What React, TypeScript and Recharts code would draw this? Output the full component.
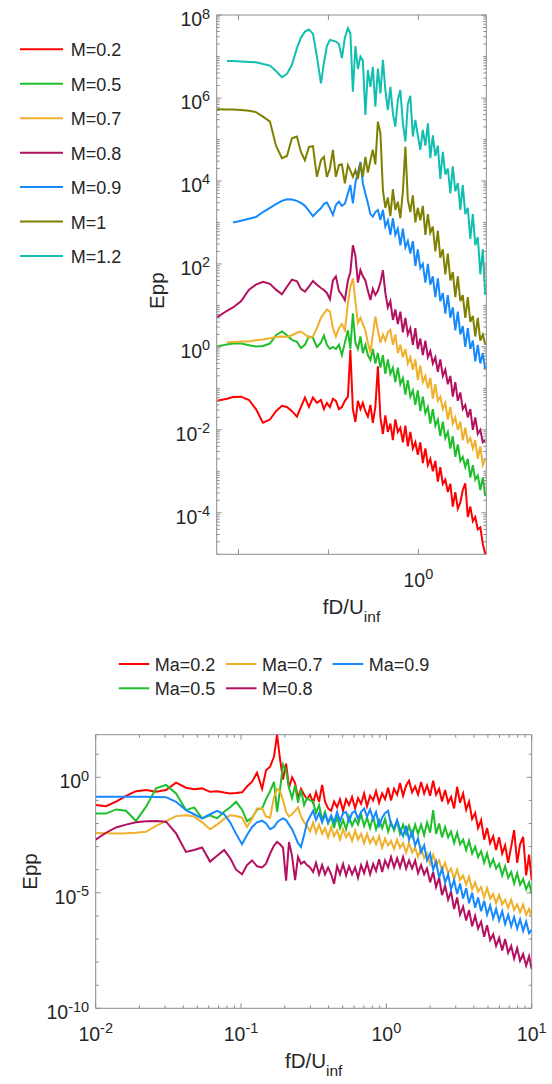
import React from "react";
import { LineChart, Line, XAxis, YAxis, ReferenceArea } from "recharts";

// ---- top panel: log10(fD/U_inf) sample points and log10(Epp) per Mach number ----
const topFreqExp = [
  -2.239, -2.128, -2.061, -1.972, -1.883, -1.806, -1.728, -1.65, -1.583, -1.517,
  -1.461, -1.406, -1.35, -1.306, -1.261, -1.217, -1.172, -1.128, -1.083, -1.05,
  -1.017, -0.983, -0.95, -0.917, -0.883, -0.85, -0.817, -0.783, -0.756, -0.728,
  -0.7, -0.672, -0.644, -0.617, -0.589, -0.561, -0.533, -0.506, -0.478, -0.45,
  -0.422, -0.394, -0.367, -0.339, -0.311, -0.283, -0.256, -0.228, -0.2, -0.172,
  -0.144, -0.117, -0.089, -0.061, -0.033, -0.006, 0.022, 0.05, 0.078, 0.106,
  0.133, 0.161, 0.189, 0.217, 0.244, 0.272, 0.3, 0.328, 0.356, 0.383,
  0.411, 0.439, 0.467, 0.494, 0.522, 0.55, 0.578, 0.606, 0.633, 0.661,
  0.689, 0.717, 0.744,
];

const topM02 = [
  -1.3, -1.25, -1.21, -1.2, -1.28, -1.5, -1.83, -1.75, -1.55, -1.42,
  -1.45, -1.55, -1.68, -1.45, -1.22, -1.45, -1.22, -1.35, -1.28, -1.5,
  -1.35, -1.45, -1.25, -1.3, -1.5, -1.45, -1.3, -1.2, -0.07, -1.5,
  -1.81, -1.3, -1.5, -1.35, -1.55, -1.68, -1.4, -1.83, -1.45, -0.47,
  -1.7, -2.1, -1.65, -2.05, -1.85, -2.25, -1.75, -2.05, -1.95, -2.3,
  -1.9, -2.4, -2.05, -2.45, -2.3, -2.6, -2.3, -2.8, -2.45, -2.85,
  -2.7, -3.0, -2.75, -3.25, -2.9, -3.3, -3.2, -3.5, -3.3, -3.85,
  -3.5, -3.9, -3.75, -3.45, -3.29, -4.1, -3.85, -4.2, -4.1, -4.4,
  -4.35, -4.75, -5.0,
];

const topM05 = [
  0.01, 0.06, 0.08, 0.08, 0.04, 0.01, 0.02, 0.08, 0.28, 0.37,
  0.28, 0.17, 0.12, -0.03, 0.05, 0.25, 0.22, 0.0, 0.1, 0.27,
  0.05, -0.05, 0.0, -0.05, 0.05, -0.2, 0.1, 0.4, -0.05, 0.81,
  0.1, -0.05, 0.25, -0.15, 0.05, -0.2, -0.32, -0.05, -0.4, -0.15,
  -0.5, -0.2, -0.65, -0.3, -0.65, -0.5, -0.85, -0.5, -0.9, -0.75,
  -1.15, -0.8, -1.2, -1.05, -1.4, -1.05, -1.55, -1.2, -1.6, -1.45,
  -1.85, -1.5, -1.9, -1.75, -2.15, -1.8, -2.2, -2.05, -2.45, -2.15,
  -2.65, -2.35, -2.75, -2.65, -2.9, -2.7, -3.15, -2.85, -3.2, -3.1,
  -3.45, -3.15, -3.6,
];

const topM07 = [
  null, 0.11, 0.12, 0.13, 0.13, 0.16, 0.18, 0.21, 0.24, 0.25,
  0.24, 0.28, 0.34, 0.37, 0.3, 0.22, 0.25, 0.45, 0.7, 0.8,
  0.9, 0.85, 0.45, 0.25, 0.45, 0.55, 0.4, 1.05, 1.45, 1.65,
  1.1, 0.57, 0.7, 0.55, 0.4, 0.1, -0.15, 0.3, 0.73, 0.4,
  0.1, 0.3, 0.15, 0.35, 0.41, 0.05, 0.3, -0.15, 0.05, -0.25,
  -0.05, -0.4, -0.25, -0.55, -0.3, -0.8, -0.45, -0.85, -0.7, -1.0,
  -0.75, -1.25, -0.9, -1.3, -1.2, -1.5, -1.35, -1.75, -1.45, -1.85,
  -1.7, -2.0, -1.8, -2.25, -1.95, -2.3, -2.2, -2.45, -2.25, -2.7,
  -2.4, -2.85, -2.7,
];

const topM08 = [
  0.71, 0.87, 0.95, 1.1, 1.38, 1.5, 1.57, 1.52, 1.38, 1.27,
  1.45, 1.62, 1.58, 1.4, 1.33, 1.45, 1.59, 1.5, 1.42, 1.37,
  1.3, 1.15, 1.6, 1.7, 1.35, 1.25, 1.13, 1.6, 1.8, 2.45,
  2.2, 1.55, 1.85, 1.7, 1.6, 1.35, 1.13, 1.4, 1.25, 1.35,
  1.55, 1.85, 1.3, 0.95, 1.1, 0.65, 0.9, 0.55, 0.85, 0.35,
  0.7, 0.3, 0.45, 0.05, 0.45, -0.05, 0.2, -0.2, 0.15, -0.25,
  -0.1, -0.4, -0.25, -0.6, -0.3, -0.7, -0.55, -0.9, -0.7, -1.2,
  -0.85, -1.3, -1.1, -1.5, -1.4, -1.7, -1.5, -2.0, -1.7, -2.1,
  -2.0, -2.3, -2.25,
];

const topM09 = [
  null, null, 3.0, 3.04, 3.09, 3.13, 3.25, 3.35, 3.44, 3.52,
  3.56, 3.55, 3.52, 3.47, 3.4, 3.28, 3.15, 3.25, 3.34, 3.45,
  3.48, 3.34, 3.18, 3.42, 3.5, 3.4, 3.45, 3.7, 3.9, 3.46,
  3.95, 4.2, 4.46, 3.94, 3.7, 3.46, 3.2, 3.14, 3.25, 3.3,
  3.06, 3.3, 2.9, 3.05, 2.7, 3.1, 2.7, 2.85, 2.45, 2.85,
  2.4, 2.55, 2.25, 2.55, 1.95, 2.35, 1.9, 2.0, 1.55, 2.0,
  1.5, 1.7, 1.2, 1.65, 1.1, 1.3, 0.8, 1.25, 0.7, 0.95,
  0.4, 0.85, 0.3, 0.5, 0.0, 0.45, -0.05, 0.15, -0.35, 0.05,
  -0.4, -0.15, -0.55,
];

const topM10 = [
  5.73, 5.72, 5.72, 5.71, 5.69, 5.66, 5.55, 5.43, 4.85, 4.55,
  4.6, 5.03, 5.07, 4.7, 4.5, 4.82, 4.84, 4.1, 4.5, 4.58,
  4.1, 4.3, 4.75, 4.1, 4.38, 4.4, 3.94, 4.38, 4.25, 4.1,
  4.26, 4.05, 4.42, 4.1, 4.58, 4.2, 4.5, 4.75, 4.4, 5.43,
  5.15, 3.78, 3.35, 3.6, 3.15, 3.8, 3.3, 3.5, 3.1, 3.75,
  4.82, 3.55, 3.25, 3.65, 3.0, 3.35, 3.05, 3.4, 2.7, 3.2,
  2.75, 2.9, 2.3, 2.8, 2.15, 2.35, 1.75, 2.25, 1.6, 1.8,
  1.2, 1.7, 1.1, 1.25, 0.7, 1.2, 0.6, 0.75, 0.25, 0.7,
  0.15, 0.3, 0.05,
];

const topM12 = [
  null, 6.89, 6.89, 6.88, 6.87, 6.86, 6.82, 6.78, 6.65, 6.5,
  6.58, 6.8, 7.2, 7.45, 7.6, 7.65, 7.55, 7.0, 6.35, 6.85,
  7.25, 7.4, 7.38, 7.36, 7.3, 6.96, 7.45, 7.68, 7.56, 6.15,
  7.25, 6.7, 7.0, 6.9, 5.59, 6.67, 6.27, 6.75, 5.79, 6.71,
  6.11, 6.92, 6.19, 5.71, 6.27, 5.63, 5.31, 5.95, 6.19, 5.39,
  4.95, 5.85, 6.05, 5.07, 5.47, 5.1, 4.75, 5.23, 4.85, 5.39,
  4.55, 5.1, 4.6, 4.85, 4.05, 4.7, 4.15, 4.3, 3.7, 4.35,
  3.75, 3.95, 3.3, 3.9, 3.2, 3.35, 2.6, 3.2, 2.45, 2.65,
  1.75, 2.35, 1.25,
];

// ---- bottom panel ----
const bottomFreqExp = [
  -2.0, -1.929, -1.86, -1.791, -1.723, -1.654, -1.585, -1.516, -1.447, -1.379,
  -1.323, -1.268, -1.213, -1.165, -1.116, -1.075, -1.034, -0.993, -0.959, -0.924,
  -0.89, -0.855, -0.828, -0.8, -0.773, -0.752, -0.732, -0.711, -0.69, -0.67,
  -0.649, -0.628, -0.608, -0.587, -0.566, -0.546, -0.525,
  -0.504, -0.484, -0.463, -0.442, -0.422, -0.401, -0.38, -0.36, -0.339, -0.319,
  -0.298, -0.277, -0.257, -0.236, -0.215, -0.195, -0.174, -0.153, -0.133, -0.112,
  -0.091, -0.071, -0.05, -0.029, -0.009, 0.012, 0.032, 0.053, 0.074, 0.094,
  0.115, 0.136, 0.156, 0.177, 0.198, 0.218, 0.239, 0.26, 0.28, 0.301,
  0.322, 0.342, 0.363, 0.383, 0.404, 0.425, 0.445, 0.466, 0.487, 0.507,
  0.528, 0.549, 0.569, 0.59, 0.611, 0.631, 0.652, 0.673, 0.693, 0.714,
  0.735, 0.755, 0.776, 0.797, 0.817, 0.838, 0.859, 0.879, 0.9, 0.92,
  0.941, 0.962, 0.982, 1.0,
];

const botMa02 = [
  -1.2, -1.25, -1.05, -0.8, -0.6, -0.55, -0.62, -0.55, -0.23, -0.45,
  -0.52, -0.48, -0.63, -0.6, -0.66, -0.7, -0.68, -0.65, -0.4, -0.19,
  0.2, -0.5, 0.3, 0.46, 0.9, 1.85, 0.8, -0.1, 0.59, -0.45,
  0.0, -0.25, -0.9, -0.5, -0.75, -0.95, -0.75,
  -1.1, -0.65, -1.06, -0.33, -1.05, -1.35, -1.45, -1.05, -1.3, -0.95,
  -1.45, -0.95, -1.2, -0.85, -1.35, -0.9, -1.15, -0.7, -1.25, -0.8,
  -1.0, -0.6, -1.1, -0.7, -0.95, -0.45, -1.0, -0.5, -0.75, -0.25,
  -0.8, -0.35, -0.15, -0.65, -0.4, -0.75, -0.2, -0.7, -0.35, -0.8,
  -0.15, -0.75, -0.5, -1.05, -0.55, -1.1, -0.85, -1.35, -0.41, -1.1,
  -0.7, -1.4, -1.05, -1.8, -1.55, -2.2, -1.85, -2.7, -2.2, -2.85,
  -2.55, -3.15, -2.6, -3.3, -2.95, -3.7, -3.0, -2.29, -3.7, -2.9,
  -2.58, -4.25, -3.35, -4.45,
];

const botMa05 = [
  -1.57, -1.57, -1.39, -1.45, -1.89, -1.28, -0.48, -0.33, -0.7, -1.42,
  -1.3, -1.78, -1.65, -1.78, -1.49, -1.3, -1.06, -1.4, -1.9, -1.75,
  -1.4, -1.35, -0.95, -0.6, -0.2, -1.5, -0.55, 0.55, 0.3, -0.45,
  -0.9, -0.35, -1.1, -0.55, -1.2, -0.9, -1.0,
  -1.05, -1.55, -1.2, -1.85, -1.5, -2.0, -1.7, -2.2, -1.7, -2.2,
  -1.85, -2.25, -1.7, -2.1, -1.8, -2.05, -1.6, -2.1, -1.75, -2.2,
  -1.7, -2.25, -1.85, -2.2, -1.8, -2.35, -1.95, -2.3, -1.9, -2.45,
  -2.05, -2.45, -2.1, -2.55, -2.05, -2.45, -2.05, -2.5, -1.95, -2.4,
  -1.42, -2.45, -2.0, -2.6, -2.15, -2.6, -2.35, -2.85, -2.4, -2.9,
  -2.7, -3.15, -2.75, -3.3, -3.0, -3.45, -3.2, -3.7, -3.3, -3.85,
  -3.55, -3.95, -3.75, -4.25, -3.85, -4.35, -4.1, -4.6, -4.15, -4.65,
  -4.4, -4.85, -4.55, -5.05,
];

const botMa07 = [
  -2.41, -2.42, -2.43, -2.42, -2.4, -2.36, -2.1, -1.9, -1.68, -1.64,
  -1.7, -1.95, -2.25, -2.05, -1.8, -1.64, -1.68, -1.75, -2.15, -1.8,
  -1.35, -1.35, -1.7, -1.75, -0.85, -0.5, -0.6, -1.0, -1.5, -1.7,
  -1.6, -1.45, -1.3, -1.7, -1.95, -2.1, -2.35,
  -1.95, -2.4, -2.05, -2.45, -2.2, -2.6, -2.15, -2.55, -2.3, -2.7,
  -2.25, -2.6, -2.4, -2.75, -2.3, -2.7, -2.45, -2.85, -2.45, -2.85,
  -2.6, -2.9, -2.55, -3.05, -2.65, -2.95, -2.75, -3.1, -2.7, -3.05,
  -2.85, -3.25, -2.85, -3.25, -3.05, -3.45, -3.05, -3.5, -3.3, -3.75,
  -3.35, -3.8, -3.6, -4.05, -3.7, -4.15, -3.95, -4.4, -4.0, -4.45,
  -4.25, -4.65, -4.3, -4.85, -4.55, -4.95, -4.75, -5.2, -4.8, -5.25,
  -5.05, -5.45, -5.1, -5.5, -5.3, -5.65, -5.3, -5.75, -5.5, -5.85,
  -5.5, -5.95, -5.7, -6.05,
];

const botM08 = [
  -2.7, -2.4, -2.17, -2.05, -1.95, -1.9, -1.89, -1.92, -2.43, -3.23,
  -3.15, -3.04, -3.65, -3.4, -3.15, -3.5, -4.0, -4.2, -3.8, -3.6,
  -3.85, -3.9, -3.74, -3.3, -2.95, -2.8, -2.9, -3.05, -4.47, -2.8,
  -3.4, -4.45, -3.45, -3.74, -3.65, -3.8, -3.9,
  -4.1, -3.7, -4.2, -3.8, -4.2, -3.9, -4.2, -4.61, -3.85, -4.2,
  -3.75, -4.25, -3.85, -4.2, -3.9, -4.35, -3.8, -4.15, -3.7, -4.2,
  -3.75, -4.05, -3.55, -4.1, -3.6, -3.9, -3.45, -3.9, -3.5, -3.9,
  -3.45, -3.95, -3.6, -3.95, -3.6, -4.15, -3.8, -4.2, -3.95, -4.55,
  -4.1, -4.75, -4.35, -5.1, -4.7, -5.3, -4.95, -5.7, -5.2, -5.95,
  -5.6, -6.2, -5.75, -6.45, -6.0, -6.55, -6.25, -6.9, -6.4, -7.05,
  -6.8, -7.3, -6.95, -7.5, -7.0, -7.6, -7.3, -7.85, -7.4, -7.95,
  -7.65, -8.15, -7.75, -8.3,
];

const botMa09 = [
  -0.84, -0.84, -0.84, -0.84, -0.84, -0.84, -0.85, -0.86, -1.06, -1.42,
  -1.6, -1.78, -1.6, -1.45, -1.6, -1.95, -2.45, -2.9, -2.5, -2.15,
  -1.95, -1.88, -2.0, -2.25, -2.15, -1.95, -1.85, -1.78, -1.85, -2.05,
  -2.25, -2.55, -2.85, -3.02, -2.5, -1.95, -1.7,
  -1.45, -1.85, -1.55, -1.95, -1.6, -1.95, -1.65, -1.95, -1.5, -1.9,
  -1.55, -1.5, -1.9, -1.55, -1.45, -1.8, -1.5, -1.35, -1.7, -1.4,
  -1.8, -1.5, -2.1, -1.75, -1.55, -1.45, -2.05, -2.2, -1.85, -2.25,
  -2.55, -2.1, -2.7, -2.35, -2.95, -2.65, -3.25, -2.95, -3.6, -3.3,
  -4.0, -3.65, -4.35, -3.95, -4.55, -4.2, -4.85, -4.45, -5.05, -4.6,
  -5.25, -4.8, -5.45, -5.0, -5.65, -5.2, -5.8, -5.35, -5.95, -5.55,
  -6.1, -5.7, -6.2, -5.8, -6.35, -5.95, -6.45, -6.05, -6.55, -6.15,
  -6.65, -6.25, -6.75, -6.6,
];

type Series = { key: string; name: string; color: string; values: (number | null)[] };

const topSeries: Series[] = [
  { key: "m02", name: "M=0.2", color: "#ff0000", values: topM02 },
  { key: "m05", name: "M=0.5", color: "#1fbf2b", values: topM05 },
  { key: "m07", name: "M=0.7", color: "#efb02c", values: topM07 },
  { key: "m08", name: "M=0.8", color: "#b3105f", values: topM08 },
  { key: "m09", name: "M=0.9", color: "#1689fc", values: topM09 },
  { key: "m10", name: "M=1", color: "#7f7f00", values: topM10 },
  { key: "m12", name: "M=1.2", color: "#10bfaf", values: topM12 },
];

const bottomSeries: Series[] = [
  { key: "a02", name: "Ma=0.2", color: "#ff0000", values: botMa02 },
  { key: "a05", name: "Ma=0.5", color: "#1fbf2b", values: botMa05 },
  { key: "a07", name: "Ma=0.7", color: "#efb02c", values: botMa07 },
  { key: "a08", name: "M=0.8", color: "#b3105f", values: botM08 },
  { key: "a09", name: "Ma=0.9", color: "#1689fc", values: botMa09 },
];

const lift = (v: number | null) => (v === null ? null : Math.pow(10, v));

const buildRows = (freqExp: number[], series: Series[]) =>
  freqExp.map((lf, i) => {
    const row: Record<string, number | null> = { f: Math.pow(10, lf) };
    series.forEach((s) => {
      row[s.key] = lift(s.values[i]);
    });
    return row;
  });

const topRows = buildRows(topFreqExp, topSeries);
const bottomRows = buildRows(bottomFreqExp, bottomSeries);

const FONT = '"Liberation Sans", Arial, Helvetica, sans-serif';
const INK = "#262626";
const FRAME = "#8c8c8c";
const Y_AXIS_W = 60;
const X_AXIS_H = 40;

type Box = { left: number; right: number; top: number; bottom: number };
const TOP_BOX: Box = { left: 216.7, right: 486.3, top: 15, bottom: 554.3 };
const BOT_BOX: Box = { left: 95.7, right: 531.7, top: 94.7, bottom: 368.3 };

const TOP_X: [number, number] = [0.005725, 5.697];
const TOP_Y: [number, number] = [1e-5, 1e8];
const BOT_X: [number, number] = [0.01, 10];
const BOT_Y: [number, number] = [1e-10, 69.8];

const expOf = (v: number) => Math.round(Math.log10(v));
const isDecade = (v: number) => Math.abs(Math.log10(v) - expOf(v)) < 1e-6;

const logTicks = (lo: number, hi: number) => {
  const out: number[] = [];
  for (let n = lo; n < hi; n++) for (let k = 1; k < 10; k++) out.push(k * Math.pow(10, n));
  out.push(Math.pow(10, hi));
  return out;
};
const decades = (lo: number, hi: number) => {
  const out: number[] = [];
  for (let n = lo; n <= hi; n++) out.push(Math.pow(10, n));
  return out;
};

const txt = (size: number): React.CSSProperties => ({ fontSize: size, fontFamily: FONT });

const Pow10 = ({ x, y, exp, anchor }: { x: number; y: number; exp: number; anchor: "end" | "middle" }) => (
  <text x={x} y={y} textAnchor={anchor} fill={INK} style={txt(19.5)}>
    10
    <tspan dy={-7.5} style={txt(14.5)}>
      {exp}
    </tspan>
  </text>
);

const yTick = (box: Box, labelled: number[]) => (props: any) => {
  const { y, payload } = props;
  const v = payload.value as number;
  const e = expOf(v);
  const shown = isDecade(v) && labelled.includes(e);
  const len = shown ? 5 : 3;
  return (
    <g>
      <line x1={box.left} x2={box.left + len} y1={y} y2={y} stroke={FRAME} />
      <line x1={box.right - len} x2={box.right} y1={y} y2={y} stroke={FRAME} />
      {shown ? <Pow10 x={box.left - 6.5} y={y + 11} exp={e} anchor="end" /> : null}
    </g>
  );
};

const xTick = (box: Box, labelled: number[]) => (props: any) => {
  const { x, payload } = props;
  const v = payload.value as number;
  const e = expOf(v);
  const decade = isDecade(v);
  const shown = decade && labelled.includes(e);
  const len = decade ? 5 : 3;
  return (
    <g>
      <line x1={x} x2={x} y1={box.bottom} y2={box.bottom - len} stroke={FRAME} />
      <line x1={x} x2={x} y1={box.top} y2={box.top + len} stroke={FRAME} />
      {shown ? <Pow10 x={x} y={box.bottom + 32.5} exp={e} anchor="middle" /> : null}
    </g>
  );
};

const xTitle = (box: Box) => () => (
  <text x={(box.left + box.right) / 2} y={box.bottom + 59.5} textAnchor="middle" fill={INK} style={txt(20.5)}>
    fD/U
    <tspan dy={8} style={txt(15.5)}>
      inf
    </tspan>
  </text>
);

const yTitle = (bx: number, shift: number, box: Box) => () => {
  const cy = (box.top + box.bottom) / 2 + shift;
  return (
    <text x={bx} y={cy} transform={`rotate(-90 ${bx} ${cy})`} textAnchor="middle" fill={INK} style={txt(20.5)}>
      Epp
    </text>
  );
};

const Panel = ({
  width,
  height,
  box,
  rows,
  series,
  xDomain,
  yDomain,
  xTicks,
  yTicks,
  xLabelled,
  yLabelled,
  titleX,
  titleShift,
}: {
  width: number;
  height: number;
  box: Box;
  rows: Record<string, number | null>[];
  series: Series[];
  xDomain: [number, number];
  yDomain: [number, number];
  xTicks: number[];
  yTicks: number[];
  xLabelled: number[];
  yLabelled: number[];
  titleX: number;
  titleShift: number;
}) => (
  <LineChart
    width={width}
    height={height}
    data={rows}
    margin={{
      top: box.top,
      left: box.left - Y_AXIS_W,
      right: width - box.right,
      bottom: height - box.bottom - X_AXIS_H,
    }}
  >
    <XAxis
      dataKey="f"
      type="number"
      scale="log"
      domain={xDomain}
      allowDataOverflow
      ticks={xTicks}
      interval={0}
      height={X_AXIS_H}
      axisLine={false}
      tickLine={false}
      tick={xTick(box, xLabelled)}
      label={{ content: xTitle(box) }}
    />
    <YAxis
      type="number"
      scale="log"
      domain={yDomain}
      allowDataOverflow
      ticks={yTicks}
      interval={0}
      width={Y_AXIS_W}
      axisLine={false}
      tickLine={false}
      tick={yTick(box, yLabelled)}
      label={{ content: yTitle(titleX, titleShift, box) }}
    />
    <ReferenceArea
      x1={xDomain[0]}
      x2={xDomain[1]}
      y1={yDomain[0]}
      y2={yDomain[1]}
      fill="none"
      stroke={FRAME}
      strokeWidth={1}
      ifOverflow="visible"
    />
    {series.map((s) => (
      <Line
        key={s.key}
        dataKey={s.key}
        name={s.name}
        stroke={s.color}
        strokeWidth={2}
        dot={false}
        type="linear"
        isAnimationActive={false}
        connectNulls={false}
      />
    ))}
  </LineChart>
);

const TopLegend = () => (
  <svg width={200} height={280} style={{ position: "absolute", left: 0, top: 0 }}>
    {topSeries.map((s, i) => {
      const cy = 49.3 + i * 34.45;
      return (
        <g key={s.key}>
          <line x1={20} x2={63} y1={cy} y2={cy} stroke={s.color} strokeWidth={2} />
          <text x={70.7} y={cy + 7} fill={INK} style={txt(18)}>
            {s.name}
          </text>
        </g>
      );
    })}
  </svg>
);

const legendCols = [118.8, 226, 332.7];

const BottomLegend = () => (
  <svg width={552} height={60} style={{ position: "absolute", left: 0, top: 645 }}>
    {bottomSeries.map((s, i) => {
      const x = legendCols[Math.floor(i / 2)];
      const cy = 19 + (i % 2) * 24.3;
      return (
        <g key={s.key}>
          <line x1={x} x2={x + 30.5} y1={cy} y2={cy} stroke={s.color} strokeWidth={2} />
          <text x={x + 36} y={cy + 6.8} fill={INK} style={txt(18)}>
            {s.name}
          </text>
        </g>
      );
    })}
  </svg>
);

export default function App() {
  return (
    <div
      style={{
        position: "absolute",
        left: 0,
        top: 0,
        width: 552,
        height: 1084,
        background: "#ffffff",
        fontFamily: FONT,
        overflow: "hidden",
      }}
    >
      <div style={{ position: "absolute", left: 0, top: 0 }}>
        <Panel
          width={552}
          height={640}
          box={TOP_BOX}
          rows={topRows}
          series={topSeries}
          xDomain={TOP_X}
          yDomain={TOP_Y}
          xTicks={[0.01, 0.1, 1]}
          yTicks={logTicks(-5, 8)}
          xLabelled={[0]}
          yLabelled={[-4, -2, 0, 2, 4, 6, 8]}
          titleX={164.5}
          titleShift={6}
        />
      </div>
      <div style={{ position: "absolute", left: 0, top: 640 }}>
        <Panel
          width={552}
          height={444}
          box={BOT_BOX}
          rows={bottomRows}
          series={bottomSeries}
          xDomain={BOT_X}
          yDomain={BOT_Y}
          xTicks={logTicks(-2, 1)}
          yTicks={decades(-10, 1)}
          xLabelled={[-2, -1, 0, 1]}
          yLabelled={[-10, -5, 0]}
          titleX={37}
          titleShift={0}
        />
      </div>
      <TopLegend />
      <BottomLegend />
    </div>
  );
}
